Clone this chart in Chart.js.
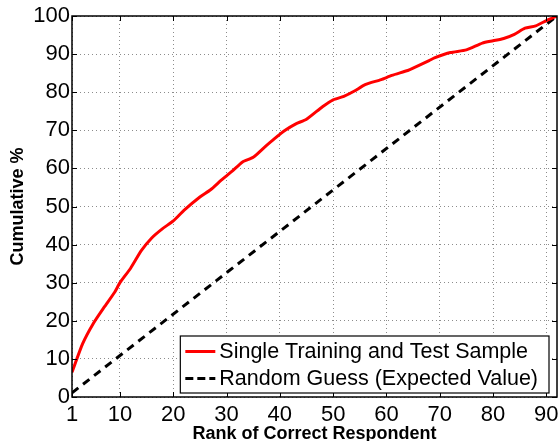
<!DOCTYPE html>
<html>
<head>
<meta charset="utf-8">
<script src="https://cdn.jsdelivr.net/npm/chart.js@4/dist/chart.umd.min.js"></script>
<style>
  html, body { margin: 0; padding: 0; background: #fff; }
  #wrap { width: 558px; height: 441px; }
</style>
</head>
<body>
<div id="wrap"><canvas id="plot-id" width="558" height="441"></canvas></div>
<script>
// values
let rank_obs = [1, 3, 5, 7, 9, 10, 12, 14, 16, 18, 20, 22, 25, 27, 29, 31, 33, 35, 37, 39,
    41, 43, 45, 48, 50, 52, 54, 56, 59, 61, 64, 65, 68, 69, 72, 75, 78, 80, 82, 84, 86, 88, 90, 92];
let cumulative_obs = [6.5, 14, 19.3, 23.5, 27.5, 30, 33.8, 38.4, 41.8, 44.2, 46.2, 49, 52.5, 54.4, 56.9, 59.2, 61.7, 62.9, 65.4, 67.8,
    70, 71.7, 72.9, 76.2, 78, 78.9, 80.3, 82, 83.3, 84.4, 85.7, 86.3, 88.3, 89, 90.4, 91.1, 92.9, 93.5, 94.1, 95.2, 96.8, 97.4, 98.8, 100];
let guess_rank = [1, 92];
let guess_obs = [1.1, 100];
let x_ticks = [1, 10, 20, 30, 40, 50, 60, 70, 80, 90];
let y_ticks = [0, 10, 20, 30, 40, 50, 60, 70, 80, 90, 100];
let series_labels = ['Single Training and Test Sample', 'Random Guess (Expected Value)'];

const FONT = '"Liberation Sans", Arial, Helvetica, sans-serif';

// box, inner tick marks and legend drawn matlab style
const matlabAxes = {
    id: 'matlabAxes',
    afterDatasetsDraw(chart) {
        const ctx = chart.ctx;
        const a = chart.chartArea;
        const xs = chart.scales.x, ys = chart.scales.y;
        ctx.save();
        ctx.strokeStyle = '#000';
        ctx.lineWidth = 1;
        ctx.beginPath();
        x_ticks.forEach(v => {
            let px = Math.round(xs.getPixelForValue(v)) + 0.5;
            ctx.moveTo(px, a.bottom); ctx.lineTo(px, a.bottom - 5);
            ctx.moveTo(px, a.top); ctx.lineTo(px, a.top + 5);
        });
        y_ticks.forEach(v => {
            let py = Math.round(ys.getPixelForValue(v)) + 0.5;
            ctx.moveTo(a.left, py); ctx.lineTo(a.left + 5, py);
            ctx.moveTo(a.right, py); ctx.lineTo(a.right - 5, py);
        });
        ctx.stroke();
        ctx.lineWidth = 1.5;
        ctx.strokeRect(a.left, a.top, a.right - a.left, a.bottom - a.top);

        // legend box
        ctx.font = '21.5px ' + FONT;
        let tw = Math.max(...series_labels.map(s => ctx.measureText(s).width));
        let w = 5 + 30 + 4 + tw + 11;
        let h = 57;
        let right = a.right - 8, bottom = a.bottom - 4;
        let left = right - w, top = bottom - h;
        ctx.fillStyle = '#fff';
        ctx.fillRect(left, top, w, h);
        ctx.lineWidth = 1.2;
        ctx.strokeStyle = '#000';
        ctx.strokeRect(left, top, w, h);
        chart.data.datasets.forEach((ds, i) => {
            let cy = top + 15.5 + i * 27;
            ctx.beginPath();
            ctx.strokeStyle = ds.borderColor;
            ctx.lineWidth = ds.borderWidth;
            ctx.setLineDash(ds.borderDash ? [8, 4] : []);
            ctx.moveTo(left + 5, cy); ctx.lineTo(left + 35, cy);
            ctx.stroke();
            ctx.setLineDash([]);
            ctx.fillStyle = '#000';
            ctx.textBaseline = 'middle';
            ctx.fillText(ds.label, left + 39, cy + 1);
        });
        ctx.restore();
    }
};

var ctx = document.getElementById('plot-id');
var chart = new Chart(ctx, {
    type: 'scatter',
    data: {
        datasets: [
            {
                label: series_labels[0],
                data: rank_obs.map((r, i) => ({ x: r, y: cumulative_obs[i] })),
                showLine: true,
                borderColor: '#ff0000',
                borderWidth: 3,
                pointRadius: 0,
                tension: 0.2
            },
            {
                label: series_labels[1],
                data: guess_rank.map((r, i) => ({ x: r, y: guess_obs[i] })),
                showLine: true,
                borderColor: '#000000',
                borderWidth: 3,
                borderDash: [8, 6],
                pointRadius: 0
            }
        ]
    },
    options: {
        responsive: false,
        animation: false,
        devicePixelRatio: 1,
        layout: { padding: { top: 16, right: 1, left: 0, bottom: 0 } },
        scales: {
            x: {
                type: 'linear',
                min: 1,
                max: 92,
                afterBuildTicks: s => { s.ticks = x_ticks.map(v => ({ value: v })); },
                afterFit: s => { s.height = 44; s.paddingLeft = 0; s.paddingRight = 0; },
                grid: { color: '#8c8c8c', lineWidth: 1, drawTicks: false },
                border: { display: false, dash: [1, 3] },
                ticks: { color: '#000', padding: 5, maxRotation: 0, autoSkip: false, font: { family: FONT, size: 22 } },
                title: {
                    display: true,
                    text: 'Rank of Correct Respondent',
                    color: '#000',
                    font: { family: FONT, size: 18, weight: 'bold', lineHeight: 0.8 },
                    padding: { top: 0, bottom: 0 }
                }
            },
            y: {
                min: 0,
                max: 100,
                afterBuildTicks: s => { s.ticks = y_ticks.map(v => ({ value: v })); },
                afterFit: s => { s.width = 72; s.paddingTop = 0; s.paddingBottom = 0; },
                grid: { color: '#8c8c8c', lineWidth: 1, drawTicks: false },
                border: { display: false, dash: [1, 3] },
                ticks: { color: '#000', padding: 2, font: { family: FONT, size: 22 } },
                title: {
                    display: true,
                    text: 'Cumulative %',
                    color: '#000',
                    font: { family: FONT, size: 18, weight: 'bold', lineHeight: 1 },
                    padding: { top: 9, bottom: 0 }
                }
            }
        },
        plugins: {
            legend: { display: false },
            tooltip: { enabled: false },
            title: { display: false }
        }
    },
    plugins: [matlabAxes]
});
</script>
</body>
</html>
